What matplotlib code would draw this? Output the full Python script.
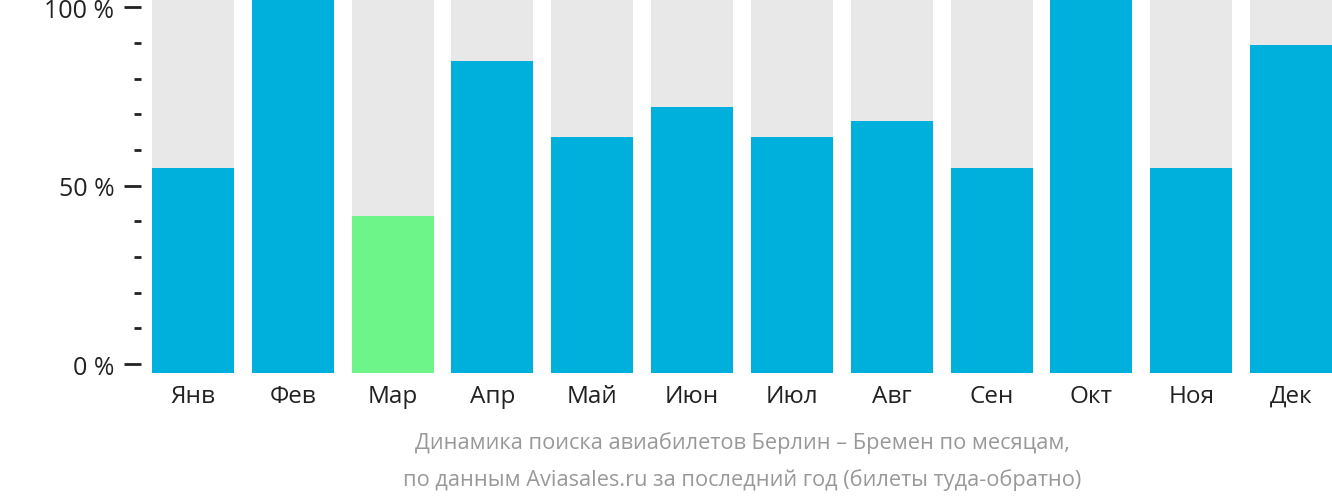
from matplotlib import pyplot as plt
import numpy as np

months = ["Янв", "Фев", "Мар", "Апр", "Май", "Июн", "Июл", "Авг", "Сен", "Окт", "Ноя", "Дек"]
values = [55, 103, 41.5, 85, 63.5, 72, 63.5, 68, 55, 103, 55, 89.5]
highlight = 2  # cheapest month

plt.rcParams["font.family"] = "Open Sans"

fig = plt.figure(figsize=(13.32, 5.02), dpi=100)
ax = fig.add_axes([152/1332, 128/502, 1180/1332, 374/502])

x = np.arange(len(months))
y_lo, y_hi = -2.5, 102.3
colors = ["#6DF58A" if i == highlight else "#00B0DC" for i in range(len(months))]
ax.bar(x, y_hi - y_lo, bottom=y_lo, width=0.82, color="#E8E8E8", align="center")
ax.bar(x, np.array(values) - y_lo, bottom=y_lo, width=0.82, color=colors)

ax.set_xlim(-0.41, 11.41)
ax.set_ylim(y_lo, y_hi)
for s in ax.spines.values():
    s.set_visible(False)
ax.spines["left"].set_position(("outward", 8))

ax.set_yticks([0, 50, 100])
ax.set_yticklabels(["0 %", "50 %", "100 %"])
ax.set_yticks(np.arange(10, 100, 10), minor=True)
ax.tick_params(axis="y", which="major", length=12, width=2, labelsize=18, color="#222222",
               pad=7, labelcolor="#222222")
ax.tick_params(axis="y", which="minor", length=5, width=2, color="#222222")
ax.set_xticks(x)
ax.set_xticklabels(months)
ax.tick_params(axis="x", length=0, labelsize=17.5, pad=8, labelcolor="#222222")

fig.text(742/1332, 1 - 443/502, "Динамика поиска авиабилетов Берлин – Бремен по месяцам,",
         ha="center", va="center", fontsize=15.7, color="#999999")
fig.text(742/1332, 1 - 480/502, "по данным Aviasales.ru за последний год (билеты туда-обратно)",
         ha="center", va="center", fontsize=15.7, color="#999999")

plt.savefig("out.png", dpi=100)
